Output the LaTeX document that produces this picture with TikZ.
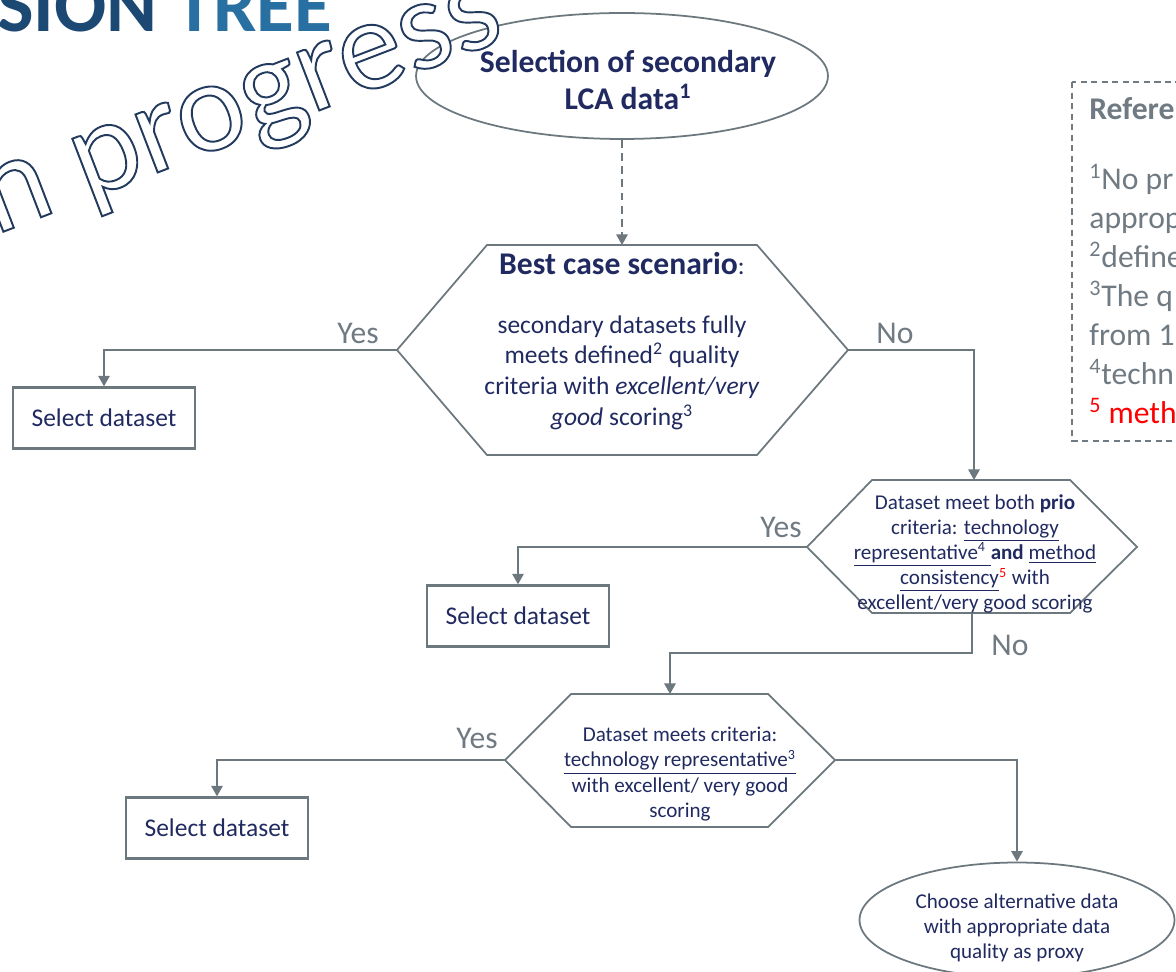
\documentclass[tikz,border=0pt]{standalone}
\usepackage{fontspec}
\setmainfont{Carlito}
\usetikzlibrary{arrows.meta,shapes.geometric}

\definecolor{navy}{RGB}{32,42,96}
\definecolor{lgrey}{RGB}{108,120,126}
\definecolor{tgrey}{RGB}{112,122,130}
\definecolor{ttlA}{RGB}{28,72,116}
\definecolor{ttlB}{RGB}{40,112,162}

% outlined text: white fill, dark blue stroke
\newcommand{\outlinetext}[1]{{\color{white}\special{pdf:literal direct 2 Tr 1.1 w 0.133 0.227 0.369 RG}#1\special{pdf:literal direct 0 Tr}}}

\tikzset{
  flow/.style={draw=lgrey, line width=0.9pt, -{Triangle[width=6.5pt,length=6pt]}},
  hexline/.style={draw=lgrey, line width=1pt},
  selbox/.style={draw=lgrey, line width=1.3pt, minimum width=3.64cm, minimum height=1.22cm,
    inner sep=0pt, text=navy, font=\fontsize{14.5}{17.5}\selectfont},
  yn/.style={text=tgrey, font=\fontsize{18}{21}\selectfont, inner sep=0pt},
  oval/.style={ellipse, draw=lgrey, line width=1pt, inner sep=0pt},
  hextext/.style={align=center, inner sep=0pt, text=navy}
}

\begin{document}
\begin{tikzpicture}[x=0.02cm,y=-0.02cm]
\useasboundingbox (0,0) rectangle (1176,972);
\clip (0,0) rectangle (1176,972);

% title, cut by the page edge
\node[anchor=base west, inner sep=0pt, font=\fontsize{44}{48}\selectfont\bfseries] (ttl) at (-3,32)
  {\textcolor{ttlA}{SION} \textcolor{ttlB}{TREE}};

% start
\node[oval, minimum width=8.24cm, minimum height=2.52cm] (sel) at (622,76) {};
\node[hextext, font=\fontsize{18}{21.6}\selectfont\bfseries] (seltxt) at (628,80)
  {Selection of secondary\\LCA data\textsuperscript{1}};

% references, cut by the page edge
\draw[tgrey, line width=0.9pt, dash pattern=on 3.5pt off 2.5pt] (1072,82) rectangle (1200,441);
\node[anchor=base west, inner sep=0pt, text=tgrey, font=\fontsize{18}{22}\selectfont\bfseries] (refhd) at (1089,120) {Refere};
\node[anchor=north west, inner sep=0pt, align=left, text=tgrey, font=\fontsize{18}{22.2}\selectfont] (refs) at (1089,164)
  {\textsuperscript{1}No pr\\approp\\\textsuperscript{2}define\\\textsuperscript{3}The q\\from 1\\\textsuperscript{4}techn\\\textcolor{red}{\textsuperscript{5} meth}};

% best case
\coordinate (b-l) at (397,350);
\coordinate (b-r) at (848,350);
\coordinate (b-t) at (622,245);
\draw[hexline] (b-l) -- (487,245) -- (757,245) -- (b-r) -- (757,455) -- (487,455) -- cycle;
\node[hextext, font=\fontsize{14.5}{17.6}\selectfont] (best) at (622,341)
  {{\fontsize{18}{21}\selectfont\bfseries Best case scenario}:\\[16pt]
   secondary datasets fully\\ meets defined\textsuperscript{2} quality\\ criteria with \textit{excellent/very}\\ \textit{good} scoring\textsuperscript{3}};

\draw[flow, dash pattern=on 4.5pt off 3pt] (sel.south) -- (b-t);

\node[selbox] (pick1) at (104,418) {Select dataset};
\node[yn] (yes1) at (358,333) {Yes};
\node[yn] (no1) at (895,333) {No};

% both prio criteria
\coordinate (p-l) at (807,547);
\coordinate (p-r) at (1137,547);
\coordinate (p-t) at (974,480);
\coordinate (p-b) at (972,613);
\draw[hexline] (p-l) -- (872,480) -- (1070,480) -- (p-r) -- (1070,613) -- (872,613) -- cycle;
\node[hextext, font=\fontsize{12}{14.3}\selectfont] (prio) at (975,554)
  {Dataset meet both \textbf{prio}\\ criteria: \underline{technology}\\
   \underline{representative\textsuperscript{4} }\textbf{and} \underline{method}\\
   \underline{consistency}\textsuperscript{\textcolor{red}{5}} with\\ excellent/very good scoring};

\draw[flow] (b-l) -| (pick1.north);
\draw[flow] (b-r) -| (p-t);

\node[selbox] (pick2) at (518,616) {Select dataset};
\node[yn] (yes2) at (781,527) {Yes};
\node[yn] (no2) at (1010,645) {No};

% technology criterion
\coordinate (t-l) at (505,760);
\coordinate (t-r) at (835,760);
\coordinate (t-t) at (670,694);
\draw[hexline] (t-l) -- (571,694) -- (768,694) -- (t-r) -- (768,827) -- (571,827) -- cycle;
\node[hextext, font=\fontsize{12}{14.3}\selectfont] (tech) at (680,774)
  {Dataset meets criteria:\\ \underline{technology representative\textsuperscript{3}}\\ with excellent/ very good\\ scoring};

\draw[flow] (p-l) -| (pick2.north);
\draw[flow] (p-b) -- ++(0,40) -| (t-t);

\node[selbox] (pick3) at (217,828) {Select dataset};
\node[yn] (yes3) at (477,738) {Yes};

% proxy
\node[oval, minimum width=6.3cm, minimum height=2.3cm] (alt) at (1017,920) {};
\node[hextext, font=\fontsize{12}{14.3}\selectfont] (alttxt) at (1017,928)
  {Choose alternative data\\ with appropriate data\\ quality as proxy};

\draw[flow] (t-l) -| (pick3.north);
\draw[flow] (t-r) -| (alt.north);

% watermark
\node[rotate=21, anchor=base east, inner sep=0pt, font=\fontsize{74}{80}\selectfont] (wip) at (508,38)
  {\outlinetext{in progress}};
\end{tikzpicture}
\end{document}
